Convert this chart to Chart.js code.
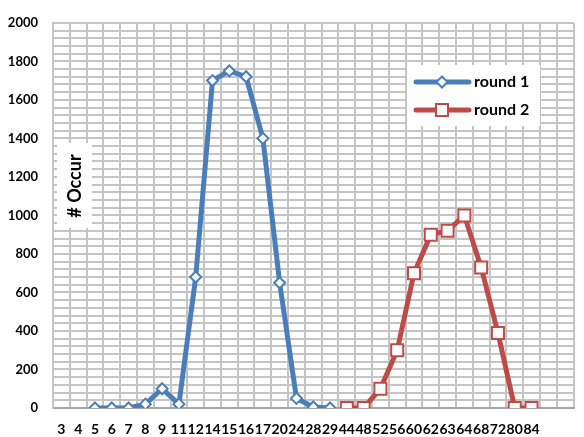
<!DOCTYPE html>
<html>
<head>
<meta charset="utf-8">
<script src="https://cdn.jsdelivr.net/npm/chart.js@4/dist/chart.umd.min.js"></script>
<style>
  html, body { margin: 0; padding: 0; background: #fff; overflow: hidden; }
</style>
</head>
<body>
<canvas id="chart" width="584" height="437"></canvas>
<script>
const categories = ["3", "4", "5", "6", "7", "8", "9", "11", "12", "14", "15", "16", "17", "20", "24",
  "28", "29", "44", "48", "52", "56", "60", "62", "63", "64", "68", "72", "80", "84"];
const round1 = [null, null, 0, 0, 0, 20, 100, 20, 680, 1700, 1750, 1720, 1400, 650, 50,
  5, 0, null, null, null, null, null, null, null, null, null, null, null, null];
const round2 = [null, null, null, null, null, null, null, null, null, null, null, null, null, null, null,
  null, null, 0, 0, 100, 300, 700, 900, 920, 1000, 730, 390, 0, 0];
const seriesNames = ["round 1", "round 2"];
const yTitle = "# Occur";

const blue = "#4a7ebb";
const red = "#be4b48";
const gridColor = "#c4c4c4";
const font = "Lato, 'Open Sans', sans-serif";

// the original plot runs on past the last label, so pad with two blank slots
const labels = categories.concat(["", ""]);

// y title sits inside the plot on a white box, legend too
const overlay = {
  id: "overlay",
  afterDraw(chart) {
    const ctx = chart.ctx;
    ctx.save();
    ctx.fillStyle = "#fff";
    ctx.fillRect(57, 143, 35, 85);
    ctx.translate(75, 186);
    ctx.rotate(-Math.PI / 2);
    ctx.fillStyle = "#000";
    ctx.font = "bold 18px " + font;
    ctx.textAlign = "center";
    ctx.textBaseline = "middle";
    ctx.fillText(yTitle, 0, 0);
    ctx.restore();

    ctx.save();
    ctx.fillStyle = "#fff";
    ctx.fillRect(407, 65, 133, 61);
    chart.data.datasets.forEach((ds, i) => {
      const y = 82 + i * 28;
      ctx.strokeStyle = ds.borderColor;
      ctx.lineWidth = 5;
      ctx.lineCap = "round";
      ctx.beginPath();
      ctx.moveTo(416, y);
      ctx.lineTo(469, y);
      ctx.stroke();
      ctx.fillStyle = "#fff";
      ctx.lineWidth = ds.pointBorderWidth;
      ctx.lineCap = "butt";
      Chart.helpers.drawPoint(ctx, {
        pointStyle: ds.pointStyle,
        radius: ds.pointRadius,
        borderWidth: ds.pointBorderWidth,
        rotation: 0
      }, 442, y);
      ctx.fillStyle = "#000";
      ctx.font = "bold 16px " + font;
      ctx.textAlign = "left";
      ctx.textBaseline = "middle";
      ctx.fillText(ds.label, 474, y);
    });
    ctx.restore();
  }
};

new Chart(document.getElementById("chart"), {
  type: "line",
  data: {
    labels: labels,
    datasets: [
      {
        label: seriesNames[0],
        data: round1,
        borderColor: blue,
        borderWidth: 5,
        backgroundColor: "#fff",
        pointStyle: "rectRot",
        pointRadius: 5.5,
        pointBorderWidth: 2,
        pointBorderColor: blue,
        pointBackgroundColor: "#fff",
        tension: 0
      },
      {
        label: seriesNames[1],
        data: round2,
        borderColor: red,
        borderWidth: 5,
        backgroundColor: "#fff",
        pointStyle: "rect",
        pointRadius: 8.5,
        pointBorderWidth: 2,
        pointBorderColor: red,
        pointBackgroundColor: "#fff",
        tension: 0
      }
    ]
  },
  options: {
    responsive: false,
    animation: false,
    layout: { padding: { top: 15, right: 0, left: 0, bottom: 0 } },
    plugins: {
      legend: { display: false },
      tooltip: { enabled: false }
    },
    scales: {
      x: {
        offset: true,
        grid: { offset: true, color: gridColor, lineWidth: 2, drawTicks: false },
        border: { color: "#a6a6a6", width: 2 },
        ticks: {
          autoSkip: false,
          maxRotation: 0,
          padding: 13,
          color: "#000",
          font: { family: font, size: 14, weight: "bold" }
        },
        afterFit(scale) { scale.height = 29; }
      },
      y: {
        min: 0,
        max: 2000,
        grid: { color: gridColor, lineWidth: 2, drawTicks: false },
        border: { color: gridColor, width: 2 },
        ticks: {
          stepSize: 40,
          autoSkip: false,
          padding: 15,
          color: "#000",
          font: { family: font, size: 13, weight: "bold" },
          callback: (v) => (v % 200 === 0 ? String(v) : "")
        },
        afterFit(scale) { scale.width = 53; }
      }
    }
  },
  plugins: [overlay]
});
</script>
</body>
</html>
